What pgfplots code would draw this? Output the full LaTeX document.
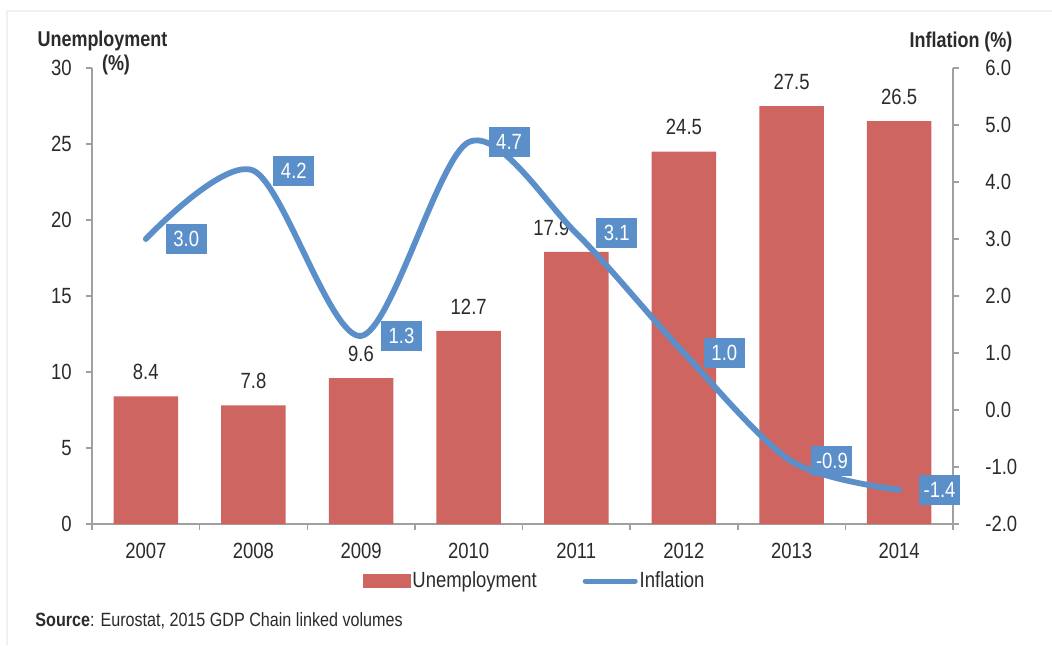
\documentclass[border=0pt]{standalone}
\usepackage{pgfplots}
\pgfplotsset{compat=1.18}
\usepackage{pgfplotstable}
\usepackage{fontspec}
\setmainfont{Liberation Sans}[FakeStretch=0.84]
\definecolor{barred}{HTML}{CF6560}
\definecolor{lineblue}{HTML}{5B8FC9}
\definecolor{axisgray}{HTML}{A0A0A0}
\definecolor{txt}{HTML}{2B2B2B}
\newcommand\f{\fontsize{11}{13}\selectfont}
\pgfplotsset{/pgf/number format/assume math mode=true}

\pgfplotstableread{
x u lab
0 8.4 8.4
1 7.8 7.8
2 9.6 9.6
3 12.7 12.7
4 17.9 {}
5 24.5 24.5
6 27.5 27.5
7 26.5 26.5
}\unemp
\pgfplotstableread{
x inf lab
0 3.0 3.0
1 4.2 4.2
2 1.3 1.3
3 4.7 4.7
4 3.1 3.1
5 1.0 1.0
6 -0.9 -0.9
7 -1.4 -1.4
}\infl

\begin{document}
\begin{tikzpicture}[x=1pt,y=1pt]
\useasboundingbox (0,0) rectangle (526,322.5);
\fill[white] (0,0) rectangle (526,322.5);
\draw[black!6, line width=0.8pt] (3.5,0) -- (3.5,317) -- (526,317);

\begin{axis}[
  at={(46pt,60.5pt)}, anchor=south west,
  scale only axis, width=430.5pt, height=228pt,
  xmin=-0.5, xmax=7.5, ymin=0, ymax=30,
  axis y line*=left, axis x line*=bottom,
  axis line style={axisgray, line width=0.75pt},
  tick style={axisgray, line width=0.75pt},
  tick align=outside, major tick length=3pt, minor tick length=3pt,
  xtick={0,...,7},
  xticklabels={2007,2008,2009,2010,2011,2012,2013,2014},
  major x tick style={draw=none},
  minor xtick={-0.5,0.5,...,7.5},
  ytick={0,5,...,30},
  xticklabel style={font=\f, text=txt, inner sep=0pt, anchor=north, yshift=-6.5pt},
  yticklabel style={font=\f, text=txt, inner sep=0pt, anchor=east, xshift=-7pt},
  clip=false,
]
\addplot[ybar, bar width=0.6, fill=barred, draw=none,
  nodes near coords, point meta=explicit symbolic,
  nodes near coords style={font=\f, text=txt, anchor=south, inner sep=0pt, yshift=8pt}]
  table[x=x,y=u,meta=lab]{\unemp};
\addplot[draw=none, nodes near coords, point meta=explicit symbolic,
  nodes near coords style={font=\f, text=txt, anchor=south, inner sep=0pt, yshift=8pt, xshift=-12.5pt}]
  coordinates {(4,17.9) [17.9]};
\end{axis}

\begin{axis}[
  at={(46pt,60.5pt)}, anchor=south west,
  scale only axis, width=430.5pt, height=228pt,
  xmin=-0.5, xmax=7.5, ymin=-2, ymax=6,
  axis y line*=right, axis x line=none,
  axis line style={axisgray, line width=0.75pt},
  tick style={axisgray, line width=0.75pt},
  tick align=outside, major tick length=3pt,
  ytick={-2,-1,...,6},
  yticklabel style={font=\f, text=txt, inner sep=0pt, anchor=west, xshift=13pt,
    /pgf/number format/.cd, fixed, fixed zerofill, precision=1},
  legend style={at={(0.514,-0.125)}, anchor=center, draw=none, fill=none,
    font=\f, text=txt, legend columns=2,
    /tikz/every even column/.append style={column sep=22pt},
    nodes={inner sep=1pt}},
  clip=false,
]
\addlegendimage{legend image code/.code={\fill[barred] (0pt,-3.25pt) rectangle (23.5pt,3.25pt);}}
\addlegendentry{Unemployment}
\addlegendimage{legend image code/.code={\draw[lineblue, line width=2.5pt, line cap=round] (0pt,0pt) -- (25pt,0pt);}}
\addlegendentry{Inflation}
\addplot[lineblue, line width=2.9pt, smooth, line cap=round, forget plot,
  nodes near coords, point meta=explicit symbolic,
  nodes near coords style={font=\f, text=white, fill=lineblue, anchor=west,
    inner sep=0pt, minimum width=20.5pt, minimum height=15pt, xshift=8.5pt, yshift=0pt}]
  table[x=x, y=inf, meta=lab]{\infl};
\end{axis}

\node[font=\fontsize{10.7}{13}\selectfont\bfseries, text=txt] at (51.25,302) {Unemployment};
\node[font=\fontsize{10.7}{13}\selectfont\bfseries, text=txt] at (58,290) {(\%)};
\node[font=\fontsize{10.7}{13}\selectfont\bfseries, text=txt] at (480.5,301.5) {Inflation (\%)};
\node[font=\fontsize{9.6}{12}\selectfont, text=txt, anchor=base west, inner sep=0pt] at (17.5,9.5) {\textbf{Source}: Eurostat, 2015 GDP Chain linked volumes};
\end{tikzpicture}
\end{document}
